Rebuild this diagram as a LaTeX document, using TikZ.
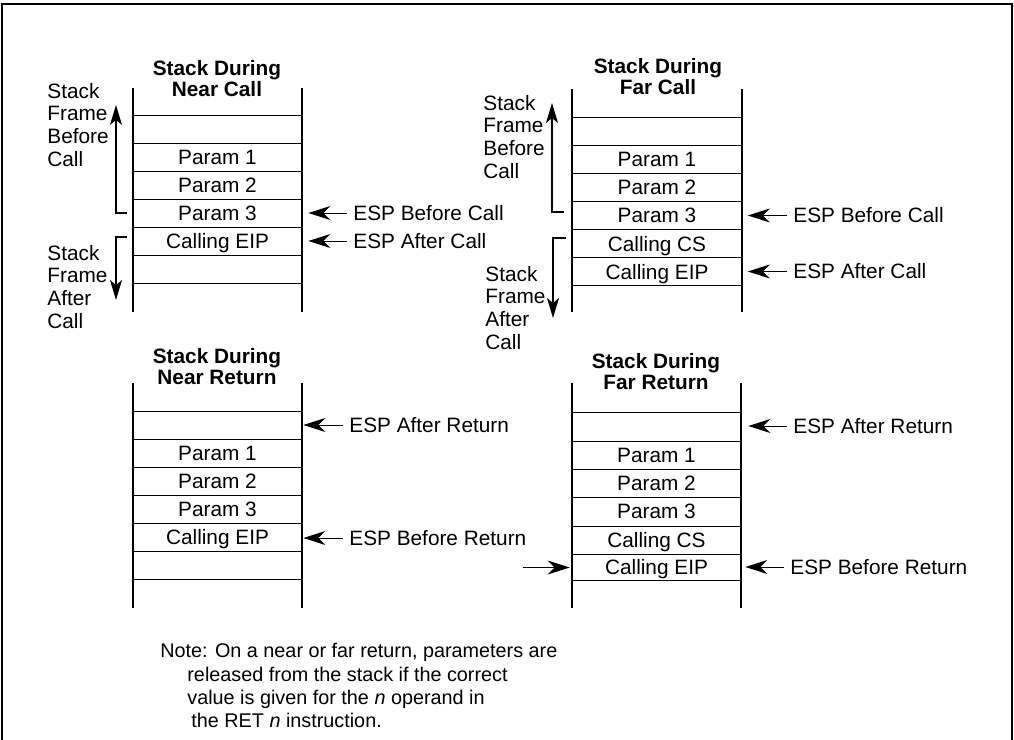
\documentclass[tikz,border=0pt]{standalone}
\usepackage{fontspec}
\setmainfont{Liberation Sans}
\usetikzlibrary{arrows.meta}

\tikzset{
    cell/.style={minimum width=84.5pt,minimum height=14pt,inner sep=0pt,text depth=0pt},
    rim/.style={line width=0.85pt},
    rung/.style={line width=0.5pt},
    ptr/.style={-{Stealth[length=11pt,width=7pt,inset=3.5pt]},line width=0.5pt,shorten >=3pt},
    frm/.style={-{Stealth[length=10pt,width=6pt,inset=2.5pt]},line width=0.8pt},
    title/.style={anchor=north,align=center,inner sep=0pt,font=\fontsize{10.4}{10.6}\selectfont\bfseries},
    side/.style={anchor=north west,align=left,inner sep=0pt},
    esp/.style={anchor=west,inner xsep=3pt,inner ysep=0pt}
}

\begin{document}
\begin{tikzpicture}[x=0.5pt,y=-0.5pt,every node/.style={font=\fontsize{10.4}{11.35}\selectfont}]
        \useasboundingbox (0,0) rectangle (1014,740);
        \draw[line width=1pt] (2,740) -- (2,4) -- (1012,4) -- (1012,740);

        % near call
        \node[title] (nctitle) at (217,59.6) {Stack During\\Near Call};
        \draw[rim] (133,88) -- (133,312) (302,88) -- (302,312);
        \foreach \y in {115,143,171,199,227,255,283}
            \draw[rung] (133,\y) -- (302,\y);
        \node[cell] (nc1) at (217.5,157) {Param 1};
        \node[cell] (nc2) at (217.5,185) {Param 2};
        \node[cell] (nc3) at (217.5,213) {Param 3};
        \node[cell] (nc4) at (217.5,241) {Calling EIP};
        \node[esp] (ncbefore) at (347,213) {ESP Before Call};
        \node[esp] (ncafter) at (347,241) {ESP After Call};
        \path
            (ncbefore.west) edge[ptr] (ncbefore.west -| nc3.east)
            (ncafter.west) edge[ptr] (ncafter.west -| nc4.east);
        \node[side] (ncup) at (47,82.6) {Stack\\Frame\\Before\\Call};
        \node[side] (ncdown) at (47,244.6) {Stack\\Frame\\After\\Call};
        \coordinate (ncupfoot) at (127,213);
        \coordinate (ncuptip) at (116,105);
        \coordinate (ncdownfoot) at (127,237);
        \coordinate (ncdowntip) at (116,300);
        \draw[frm] (ncupfoot) -| (ncuptip);
        \draw[frm] (ncdownfoot) -| (ncdowntip);

        % far call
        \node[title] (fctitle) at (658,57.6) {Stack During\\Far Call};
        \draw[rim] (572,89) -- (572,312) (742,89) -- (742,312);
        \foreach \y in {117,145.5,173,201.5,229.5,257.5,285.5}
            \draw[rung] (572,\y) -- (742,\y);
        \node[cell] (fc1) at (657,159) {Param 1};
        \node[cell] (fc2) at (657,187) {Param 2};
        \node[cell] (fc3) at (657,215.5) {Param 3};
        \node[cell] (fc4) at (657,243.5) {Calling CS};
        \node[cell] (fc5) at (657,271.5) {Calling EIP};
        \node[esp] (fcbefore) at (787,215.5) {ESP Before Call};
        \node[esp] (fcafter) at (787,271.5) {ESP After Call};
        \path
            (fcbefore.west) edge[ptr] (fcbefore.west -| fc3.east)
            (fcafter.west) edge[ptr] (fcafter.west -| fc5.east);
        \node[side] (fcup) at (483,94.6) {Stack\\Frame\\Before\\Call};
        \node[side] (fcdown) at (485,265.6) {Stack\\Frame\\After\\Call};
        \coordinate (fcupfoot) at (564,212);
        \coordinate (fcuptip) at (552,103);
        \coordinate (fcdownfoot) at (566,238);
        \coordinate (fcdowntip) at (553,318);
        \draw[frm] (fcupfoot) -| (fcuptip);
        \draw[frm] (fcdownfoot) -| (fcdowntip);

        % near return
        \node[title] (nrtitle) at (217,347.6) {Stack During\\Near Return};
        \draw[rim] (133,383) -- (133,608) (302,383) -- (302,608);
        \foreach \y in {411,439,467,495,523,551,579}
            \draw[rung] (133,\y) -- (302,\y);
        \node[cell] (nr0) at (217.5,425) {};
        \node[cell] (nr1) at (217.5,453) {Param 1};
        \node[cell] (nr2) at (217.5,481) {Param 2};
        \node[cell] (nr3) at (217.5,509) {Param 3};
        \node[cell] (nr4) at (217.5,537) {Calling EIP};
        \node[esp] (nrafter) at (343,425) {ESP After Return};
        \node[esp] (nrbefore) at (343,538) {ESP Before Return};
        \path
            (nrafter.west) edge[ptr,shorten >=0.5pt] (nrafter.west -| nr0.east)
            (nrbefore.west) edge[ptr,shorten >=0.5pt] (nrbefore.west -| nr4.east);

        % far return
        \node[title] (frtitle) at (656,352.6) {Stack During\\Far Return};
        \draw[rim] (572,383) -- (572,608) (741,383) -- (741,608);
        \foreach \y in {412,441,469,497,526,554,580}
            \draw[rung] (572,\y) -- (741,\y);
        \node[cell] (fr0) at (656.5,426.5) {};
        \node[cell] (fr1) at (656.5,455) {Param 1};
        \node[cell] (fr2) at (656.5,483) {Param 2};
        \node[cell] (fr3) at (656.5,511.5) {Param 3};
        \node[cell] (fr4) at (656.5,540) {Calling CS};
        \node[cell] (fr5) at (656.5,567) {Calling EIP};
        \node[esp] (frafter) at (787,426) {ESP After Return};
        \node[esp] (frbefore) at (784,567) {ESP Before Return};
        \path
            (frafter.west) edge[ptr,shorten >=3.5pt] (frafter.west -| fr0.east)
            (frbefore.west) edge[ptr,shorten >=2pt] (frbefore.west -| fr5.east);
        \coordinate (frin) at (523,567.5);
        \path (frin) edge[ptr,shorten >=1pt] (frin -| fr5.west);

        % note
        \node[side,font=\fontsize{9.9}{11.65}\selectfont] (note) at (160,643)
            {Note: On a near or far return, parameters are\\
             \hspace{13.5pt}released from the stack if the correct\\
             \hspace{13.5pt}value is given for the \textit{n} operand in\\
             \hspace{15.5pt}the RET \textit{n} instruction.};
    \end{tikzpicture}
\end{document}
